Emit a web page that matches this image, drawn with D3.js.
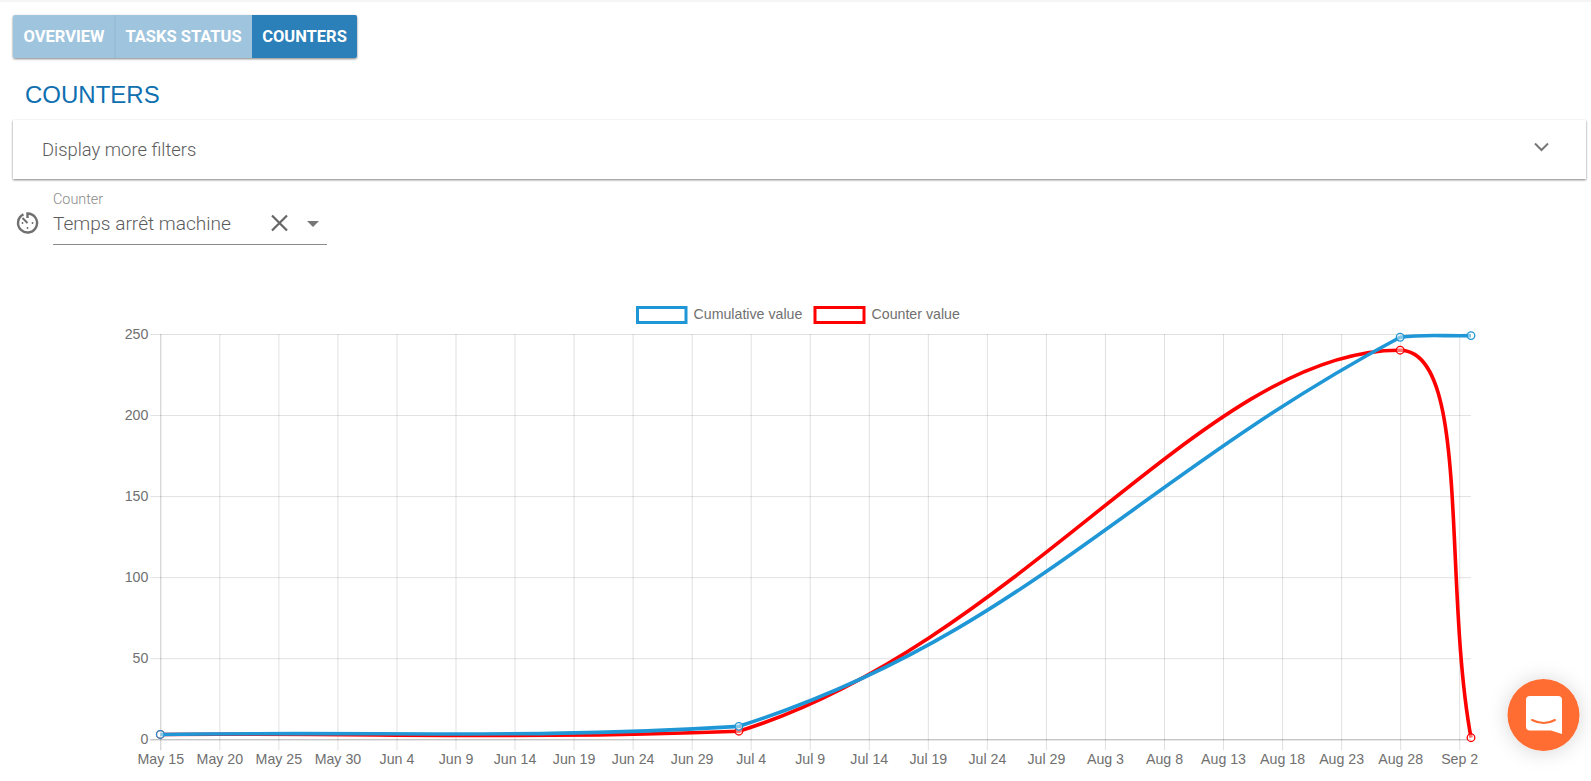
<!DOCTYPE html>
<html><head><meta charset="utf-8">
<script src="https://cdn.jsdelivr.net/npm/d3@7/dist/d3.min.js"></script>
<style>
html,body{margin:0;padding:0;background:#fff;overflow:hidden}
svg{display:block}
.axis text{font:14.2px "Liberation Sans",Arial,sans-serif;fill:#707070}
.ui{font-family:Roboto,sans-serif}
</style></head><body>
<svg id="c" width="1591" height="781"></svg>
<script>
const pointDates = ["2021-05-15","2021-07-03","2021-08-28","2021-09-03"];
const cumulativeValues = [3, 8, 248, 249];
const counterValues = [3, 5, 240, 1];
const yTickValues = [0, 50, 100, 150, 200, 250];
const xTickDates = ["2021-05-15","2021-05-20","2021-05-25","2021-05-30","2021-06-04","2021-06-09","2021-06-14","2021-06-19","2021-06-24","2021-06-29","2021-07-04","2021-07-09","2021-07-14","2021-07-19","2021-07-24","2021-07-29","2021-08-03","2021-08-08","2021-08-13","2021-08-18","2021-08-23","2021-08-28","2021-09-02"];
const seriesNames = ["Cumulative value","Counter value"];
const seriesColors = ["#1f97d6","#ff0000"];
const tabLabels = ["OVERVIEW","TASKS STATUS","COUNTERS"];

const svg = d3.select("#c");
const parse = d3.utcParse("%Y-%m-%d");
const left = 160.3, right = 1471, top_ = 334, bottom = 739.3;
const x = d3.scaleUtc().domain([parse(pointDates[0]), parse(pointDates[3])]).range([left, right]);
const y = d3.scaleLinear().domain([0,250]).range([bottom, top_]);

const defs = svg.append("defs");
const f = defs.append("filter").attr("id","sh").attr("x","-5%").attr("y","-20%").attr("width","110%").attr("height","150%");
f.append("feDropShadow").attr("dx",0).attr("dy",1).attr("stdDeviation",1.2).attr("flood-color","#000").attr("flood-opacity",0.5);
const f2 = defs.append("filter").attr("id","sh2").attr("x","-60%").attr("y","-60%").attr("width","220%").attr("height","220%");
f2.append("feDropShadow").attr("dx",0).attr("dy",1).attr("stdDeviation",10).attr("flood-color","#000").attr("flood-opacity",0.16);
svg.append("rect").attr("width",1591).attr("height",2).attr("fill","#f5f5f5");

// tabs
const tabX = [13,115,252,357];
const tabs = svg.append("g").attr("class","ui");
tabs.append("rect").attr("x",13).attr("y",15).attr("width",344).attr("height",43).attr("rx",2).attr("fill","#9fc5de").attr("filter","url(#sh)");
tabLabels.forEach((t,i)=>{
  if(i===2) tabs.append("path").attr("d","M252 15H355a2 2 0 0 1 2 2V56a2 2 0 0 1 -2 2H252Z").attr("fill","#2b80b9");
  if(i===1) tabs.append("rect").attr("x",114).attr("y",15).attr("width",2).attr("height",43).attr("fill","#98bfd9");
  tabs.append("text").attr("x",(tabX[i]+tabX[i+1])/2).attr("y",41.7).attr("text-anchor","middle")
    .attr("font-size",16.5).attr("font-weight",700).attr("fill","#fff").text(t);
});

// title
svg.append("text").attr("x",25).attr("y",103).attr("font-family","Liberation Sans").attr("font-size",24).attr("fill","#0f70b0").text("COUNTERS");

// filter panel
svg.append("rect").attr("x",13).attr("y",120).attr("width",1573).attr("height",59).attr("fill","#fff").attr("filter","url(#sh)");
svg.append("text").attr("class","ui").attr("x",42).attr("y",156).attr("font-size",18.4).attr("font-weight",300).attr("fill","#5c5c5c").text("Display more filters");
svg.append("path").attr("d","M1535 143.5l6.5 6.5l6.5-6.5").attr("fill","none").attr("stroke","#777").attr("stroke-width",2);

// counter select
svg.append("text").attr("class","ui").attr("x",53).attr("y",204).attr("font-size",14.4).attr("font-weight",300).attr("fill","#8a8a8a").text("Counter");
svg.append("text").attr("class","ui").attr("x",53).attr("y",230).attr("font-size",19.1).attr("font-weight",300).attr("fill","#5c5c5c").text("Temps arrêt machine");
svg.append("path").attr("d","M272 215.5L287 230.5M287 215.5L272 230.5").attr("stroke","#666").attr("stroke-width",2.2).attr("fill","none");
svg.append("path").attr("d","M307 221h12l-6 6Z").attr("fill","#777");
svg.append("line").attr("x1",53).attr("x2",327).attr("y1",244.5).attr("y2",244.5).attr("stroke","#8a8a8a").attr("stroke-width",1);
const clock = svg.append("g").attr("transform","translate(27.5,223)").attr("fill","none").attr("stroke","#707070").attr("stroke-width",2.4);
clock.append("path").attr("d","M-4 -8.6A9.5 9.5 0 1 0 0 -9.5V-5");
clock.append("path").attr("d","M-5 -5L0 0").attr("stroke-width",2);
clock.append("circle").attr("cx",-5).attr("cy",0).attr("r",.9).attr("fill","#666").attr("stroke","none");
clock.append("circle").attr("cx",5).attr("cy",0).attr("r",.9).attr("fill","#666").attr("stroke","none");
clock.append("circle").attr("cx",0).attr("cy",5).attr("r",.9).attr("fill","#666").attr("stroke","none");

// grid + axes
const chart = svg.append("g");
const gx = chart.append("g").attr("class","axis").attr("transform",`translate(0,${bottom})`)
  .call(d3.axisBottom(x).tickValues(xTickDates.map(parse)).tickFormat(d3.utcFormat("%b %-d")).tickSize(-(bottom-top_)).tickSizeOuter(0).tickPadding(0));
gx.select(".domain").remove();
gx.selectAll(".tick line").attr("y2",-(bottom-top_)).attr("stroke","rgba(0,0,0,0.12)");
gx.selectAll(".tick").append("line").attr("y1",0).attr("y2",11).attr("stroke","rgba(0,0,0,0.12)");
gx.selectAll(".tick text").attr("y",14.5).attr("dy","0.71em");
gx.selectAll(".tick").filter((d,i)=>i===0).selectAll("line").attr("stroke","rgba(0,0,0,0.22)");

const gy = chart.append("g").attr("class","axis").attr("transform",`translate(${left},0)`)
  .call(d3.axisLeft(y).tickValues(yTickValues).tickSize(-(right-left)).tickSizeOuter(0));
gy.select(".domain").remove();
gy.selectAll(".tick line").attr("x1",-10).attr("x2",right-left).attr("stroke",d=>d===0?"rgba(0,0,0,0.32)":"rgba(0,0,0,0.12)");
gy.selectAll(".tick text").attr("x",-12);

// Chart.js style bezier spline (tension 0.4, control points kept in the chart area)
function splineCurve(context){
  let pts=[];
  return {
    areaStart(){},areaEnd(){},
    lineStart(){pts=[]},
    point(a,b){pts.push([a,b])},
    lineEnd(){
      const t=0.4, cp=pts.map((p,i)=>{
        const pr=pts[i-1]||p, nx=pts[i+1]||p;
        const d01=Math.hypot(p[0]-pr[0],p[1]-pr[1]), d12=Math.hypot(nx[0]-p[0],nx[1]-p[1]);
        const s=d01+d12||1, fa=t*d01/s, fb=t*d12/s;
        const cl=q=>[Math.min(right,Math.max(left,q[0])),Math.min(bottom,Math.max(top_,q[1]))];
        return {a:cl([p[0]-fa*(nx[0]-pr[0]),p[1]-fa*(nx[1]-pr[1])]), b:cl([p[0]+fb*(nx[0]-pr[0]),p[1]+fb*(nx[1]-pr[1])])};
      });
      pts.forEach((p,i)=>{
        if(i===0) context.moveTo(p[0],p[1]);
        else context.bezierCurveTo(cp[i-1].b[0],cp[i-1].b[1],cp[i].a[0],cp[i].a[1],p[0],p[1]);
      });
    }
  };
}
const line = d3.line().x(d=>x(d.date)).y(d=>y(d.value)).curve(splineCurve);
const series = [cumulativeValues,counterValues].map((vals,i)=>({
  name:seriesNames[i],color:seriesColors[i],
  values:vals.map((v,j)=>({date:parse(pointDates[j]),value:v}))
}));
series.slice().reverse().forEach(s=>{
  const g=chart.append("g");
  g.append("path").attr("d",line(s.values)).attr("fill","none").attr("stroke",s.color).attr("stroke-width",3.6);
  g.selectAll("circle").data(s.values).join("circle").attr("cx",d=>x(d.date)).attr("cy",d=>y(d.value)).attr("r",3.8)
    .attr("fill","rgba(255,255,255,0.45)").attr("stroke",s.color).attr("stroke-width",1.3);
});

// legend
const legX=[636,813.5], legW=[687.5,865.5];
series.forEach((s,i)=>{
  svg.append("rect").attr("x",legX[i]+1.5).attr("y",307.5).attr("width",legW[i]-legX[i]-3).attr("height",15).attr("fill","#fff").attr("stroke",s.color).attr("stroke-width",3);
  svg.append("text").attr("x",legW[i]+6).attr("y",319).attr("font-family","Liberation Sans").attr("font-size",14.2).attr("fill","#707070").text(s.name);
});

// chat bubble
svg.append("circle").attr("cx",1543.5).attr("cy",715).attr("r",36).attr("fill","#ff6d33").attr("filter","url(#sh2)");
svg.append("path").attr("d","M1530 696h28a4 4 0 0 1 4 4V734l-11-3.5h-21a4 4 0 0 1 -4-4V700a4 4 0 0 1 4-4Z").attr("fill","#fff");
svg.append("path").attr("d","M1532 720Q1544 726 1555 720").attr("fill","none").attr("stroke","#ff6d33").attr("stroke-width",2).attr("stroke-linecap","round");
</script>
</body></html>
